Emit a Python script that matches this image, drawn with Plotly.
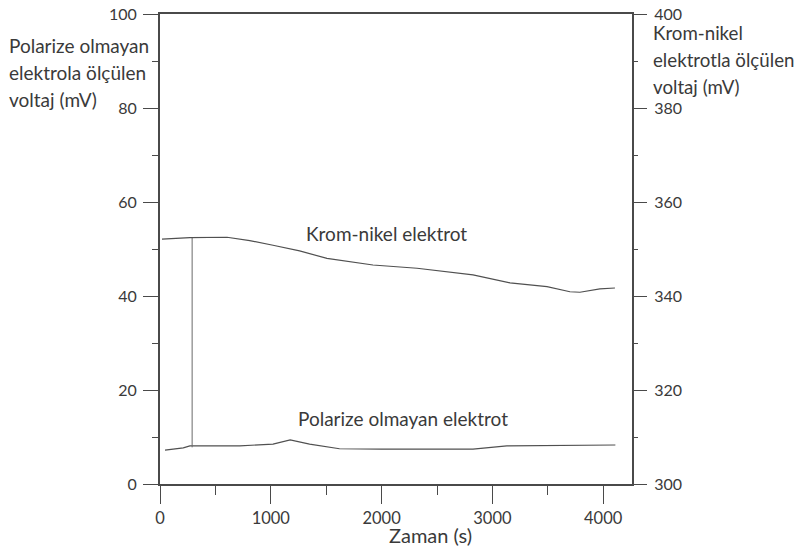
import plotly.graph_objects as go

# Time axis (s) and measured voltages
t_krom = [18, 270, 605, 810, 1020, 1260, 1507, 1922, 2320, 2825, 3159, 3493, 3700, 3790, 3970, 4106]
v_krom = [352.1, 352.4, 352.5, 351.8, 350.8, 349.6, 348.0, 346.6, 345.9, 344.5, 342.8, 342.0, 340.9, 340.8, 341.5, 341.7]

t_pol = [45, 210, 270, 720, 1020, 1175, 1350, 1500, 1620, 2000, 2825, 3130, 4110]
v_pol = [7.2, 7.7, 8.1, 8.1, 8.5, 9.4, 8.5, 7.9, 7.5, 7.4, 7.4, 8.1, 8.3]

# Vertical marker joining the two records
marker_t = 290
marker_low = 7.8      # left axis, mV
marker_high = 52.4    # left-axis position of the chromium-nickel trace

left_ticks = [0, 20, 40, 60, 80, 100]
right_ticks = [300, 320, 340, 360, 380, 400]
time_ticks = [0, 1000, 2000, 3000, 4000]

left_caption = ["Polarize olmayan", "elektrola ölçülen", "voltaj (mV)"]
right_caption = ["Krom-nikel", "elektrotla ölçülen", "voltaj (mV)"]
x_caption = "Zaman (s)"

FONT = "Lato"
TXT = "#3a3a3a"
AX = "#4a4a4a"
LINE = "#505050"

L, R, T, B = 160, 167, 14, 68
W, H = 799, 552
PW, PH = W - L - R, H - T - B

fig = go.Figure()
fig.add_trace(go.Scatter(x=t_pol, y=v_pol, mode="lines",
                         line=dict(color=LINE, width=1.2), yaxis="y", showlegend=False))
fig.add_trace(go.Scatter(x=t_krom, y=v_krom, mode="lines",
                         line=dict(color=LINE, width=1.2), yaxis="y2", showlegend=False))
fig.add_trace(go.Scatter(x=[marker_t, marker_t], y=[marker_low, marker_high], mode="lines",
                         line=dict(color="#6a6a6a", width=1), yaxis="y", showlegend=False))

fig.update_layout(
    width=W, height=H,
    margin=dict(l=L, r=R, t=T, b=B),
    paper_bgcolor="white", plot_bgcolor="white",
    font=dict(family=FONT, color=TXT, size=16),
    xaxis=dict(
        range=[0, 4260], tickvals=time_ticks, ticktext=[str(v) for v in time_ticks],
        showline=True, linecolor=AX, linewidth=2, mirror=True, automargin=False,
        ticks="outside", ticklen=18, tickwidth=1.2, tickcolor=AX,
        minor=dict(dtick=500, ticks="outside", ticklen=9, tickcolor=AX, tickwidth=1),
        showgrid=False, zeroline=False,
        tickfont=dict(size=16.5, color=TXT),
    ),
    yaxis=dict(
        range=[0, 100], tickvals=left_ticks, automargin=False,
        showline=True, linecolor=AX, linewidth=2,
        ticks="outside", ticklen=15, tickwidth=1.2, tickcolor=AX,
        minor=dict(dtick=10, ticks="outside", ticklen=6, tickcolor=AX, tickwidth=1),
        showgrid=False, zeroline=False, ticklabelstandoff=3,
        tickfont=dict(size=16, color=TXT),
    ),
    yaxis2=dict(
        range=[300, 400], tickvals=right_ticks, overlaying="y", side="right", automargin=False,
        showline=True, linecolor=AX, linewidth=2,
        ticks="outside", ticklen=13, tickwidth=1.2, tickcolor=AX,
        minor=dict(dtick=10, ticks="outside", ticklen=4, tickcolor=AX, tickwidth=1),
        showgrid=False, zeroline=False, ticklabelstandoff=4,
        tickfont=dict(size=16, color=TXT),
    ),
)

# Axis captions, one line per annotation so the line spacing can be set
def caption(lines, x_px, y0_px, step_px, size):
    for i, line in enumerate(lines):
        fig.add_annotation(xref="paper", yref="paper",
                           x=(x_px - L) / PW, y=1 - (y0_px + i * step_px - T) / PH,
                           xanchor="left", yanchor="middle", showarrow=False,
                           text=line, font=dict(size=size, color=TXT))

caption(left_caption, 7, 45, 27.5, 19)
caption(right_caption, 651, 33, 27, 18.7)

# Time-axis caption
fig.add_annotation(xref="paper", yref="paper", x=(430 - L) / PW, y=-(535 - T - PH) / PH,
                   xanchor="center", yanchor="middle", showarrow=False,
                   text=x_caption, font=dict(size=20, color=TXT))

# Curve labels
fig.add_annotation(x=2044, y=353.4, xref="x", yref="y2", showarrow=False,
                   text="Krom-nikel elektrot", font=dict(size=19, color=TXT))
fig.add_annotation(x=2193, y=14.0, xref="x", yref="y", showarrow=False,
                   text="Polarize olmayan elektrot", font=dict(size=19, color=TXT))

fig.write_html("out.html")
